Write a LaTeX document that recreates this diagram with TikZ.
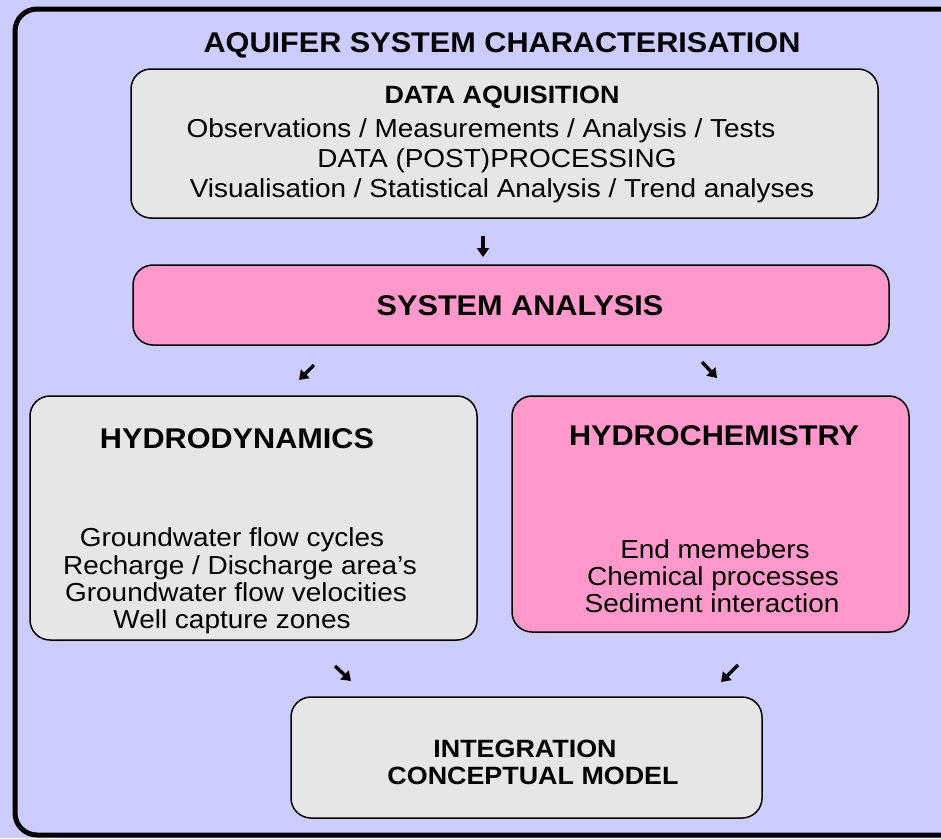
\documentclass[tikz,border=0pt]{standalone}
\usepackage{fontspec}
\setmainfont{Liberation Sans}
\usetikzlibrary{arrows.meta}
\definecolor{frameblue}{HTML}{CCCCFF}
\definecolor{boxgray}{HTML}{E6E6E6}
\definecolor{boxpink}{HTML}{FF99CC}
\tikzset{
  panel/.style={draw=black, line width=1.5pt, rounded corners=20pt, inner sep=0pt},
  graybox/.style={panel, fill=boxgray},
  pinkbox/.style={panel, fill=boxpink},
  flow/.style={line width=3.4pt, -{Triangle[length=9pt,width=12pt]}},
  textline/.style={anchor=base, inner sep=0pt, xscale=1.075, transform shape},
  txt/.style={textline, font=\fontsize{26}{30}\selectfont},
  head/.style={textline, font=\bfseries\fontsize{28.5}{30}\selectfont},
  smallhead/.style={textline, font=\bfseries\fontsize{25}{30}\selectfont},
}
\begin{document}
\begin{tikzpicture}[x=1pt,y=-1pt]
\clip (0,0) rectangle (941,838);
\fill[frameblue] (0,0) rectangle (941,838);
% outer frame, running off the right edge
\draw[line width=5pt, rounded corners=22pt, fill=frameblue] (15,9) rectangle (990,835);

\node[head] (title) at (502,52) {AQUIFER SYSTEM CHARACTERISATION};

% boxes
\node[graybox, minimum width=747pt, minimum height=149pt] (data) at (504.5,143.5) {};
\node[pinkbox, minimum width=756pt, minimum height=80pt] (sys) at (511,305) {};
\node[graybox, minimum width=447pt, minimum height=244pt] (dyn) at (253.5,518) {};
\node[pinkbox, minimum width=397pt, minimum height=236pt] (chem) at (710.5,514) {};
\node[graybox, minimum width=471pt, minimum height=121pt] (integ) at (526.5,757.5) {};

% data box
\node[smallhead] (data1) at (502,103) {DATA AQUISITION};
\node[txt] (data2) at (481,137) {Observations / Measurements / Analysis / Tests};
\node[txt] (data3) at (497,167) {DATA (POST)PROCESSING};
\node[txt] (data4) at (502,197) {Visualisation / Statistical Analysis / Trend analyses};

\node[head] (systxt) at (520,315) {SYSTEM ANALYSIS};

% hydrodynamics
\node[head] (dyntitle) at (237,448) {HYDRODYNAMICS};
\node[txt] (dyn1) at (232,546) {Groundwater flow cycles};
\node[txt] (dyn2) at (240,574) {Recharge / Discharge area's};
\node[txt] (dyn3) at (236,601) {Groundwater flow velocities};
\node[txt] (dyn4) at (232,628) {Well capture zones};

% hydrochemistry
\node[head] (chemtitle) at (714,445) {HYDROCHEMISTRY};
\node[txt] (chem1) at (715,558) {End memebers};
\node[txt] (chem2) at (713,585) {Chemical processes};
\node[txt] (chem3) at (712,612) {Sediment interaction};

% integration
\node[smallhead] (integ1) at (525,757) {INTEGRATION};
\node[smallhead] (integ2) at (533,784) {CONCEPTUAL MODEL};

% connector end points
\coordinate (a1s) at (483,236); \coordinate (a1e) at (483,257);
\coordinate (a2s) at (314,365); \coordinate (a2e) at (299,380);
\coordinate (a3s) at (702,362); \coordinate (a3e) at (717,378);
\coordinate (a4s) at (335,666); \coordinate (a4e) at (351,681);
\coordinate (a5s) at (738,665); \coordinate (a5e) at (721,682);

\draw[flow] (a1s) -- (a1e);
\draw[flow] (a2s) -- (a2e);
\draw[flow] (a3s) -- (a3e);
\draw[flow] (a4s) -- (a4e);
\draw[flow] (a5s) -- (a5e);
\end{tikzpicture}
\end{document}
